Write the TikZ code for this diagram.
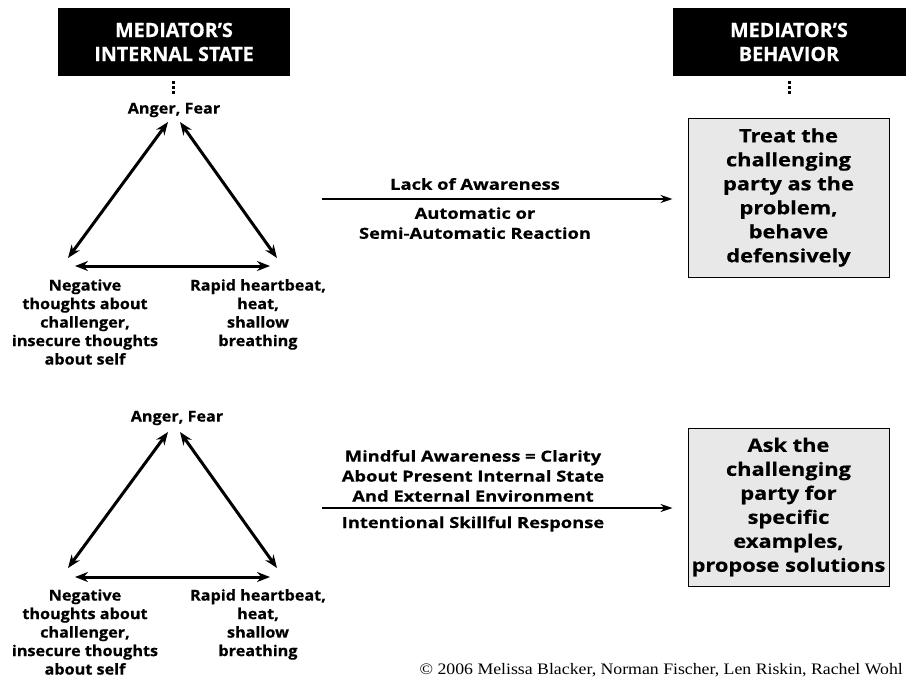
\documentclass[tikz,border=0pt]{standalone}
\usepackage{fontspec}
\setmainfont{Open Sans}
\newfontfamily\hdrf{Open Sans}[FakeBold=0.5]
\newfontfamily\lblf{Open Sans}[FakeStretch=1.08,FakeBold=0.5]
\newfontfamily\midf{Open Sans}[FakeStretch=1.2,FakeBold=0.5]
\newfontfamily\boxf{Open Sans}[FakeStretch=1.18,FakeBold=0.5]
\newfontfamily\crfont{Liberation Serif}[FakeStretch=1.11]
\usetikzlibrary{arrows.meta}
\begin{document}
\begin{tikzpicture}[x=1pt,y=-1pt,
  hdr/.style={fill=black,text=white,font=\hdrf\bfseries\fontsize{19.7}{24}\selectfont,align=center,minimum width=232pt,minimum height=68pt,inner sep=0pt},
  lbl/.style={font=\lblf\bfseries\fontsize{15}{18.5}\selectfont,align=center,inner sep=0pt},
  mid/.style={font=\midf\bfseries\fontsize{15.3}{20}\selectfont,align=center,inner sep=0pt},
  res/.style={draw=black,line width=1pt,fill=black!9,font=\boxf\bfseries\fontsize{18.5}{24}\selectfont,align=center,minimum width=201pt,inner sep=0pt},
  tri/.style={line width=3pt,{Stealth[length=13pt,width=10pt]}-{Stealth[length=13pt,width=10pt]}},
  flow/.style={line width=2pt,-{Stealth[length=12pt,width=8pt]}},
  dots/.style={line width=3pt,dash pattern=on 2.5pt off 2.5pt}]
\useasboundingbox (0,0) rectangle (909,677);
% headers
\node[hdr] (h1) at (174,42) {MEDIATOR’S\\INTERNAL STATE};
\node[hdr,minimum width=233pt] (h2) at (789,42) {MEDIATOR’S\\BEHAVIOR};
\coordinate (d1) at (173,95);
\coordinate (d2) at (789,96);
\draw[dots] ([xshift=-1pt]h1.south) ++(0,5) -- (d1);
\draw[dots] (h2.south) ++(0,5) -- (d2);
% top triangle
\node[lbl] (af1) at (174,110) {Anger, Fear};
\node[lbl,anchor=north] (neg1) at (85,279) {Negative\\thoughts about\\challenger,\\insecure thoughts\\about self};
\node[lbl,anchor=north] (rap1) at (258,279) {Rapid heartbeat,\\heat,\\shallow\\breathing};
\coordinate (t1a) at (168,122); \coordinate (t1b) at (68,258);
\coordinate (t1c) at (180,122); \coordinate (t1d) at (277,258);
\coordinate (t1e) at (75,266); \coordinate (t1f) at (270,266);
\draw[tri] (t1a) -- (t1b);
\draw[tri] (t1c) -- (t1d);
\draw[tri] (t1e) -- (t1f);
% top flow
\node[res,minimum height=159pt] (b1) at (788.5,197.5) {Treat the\\challenging\\party as the\\problem,\\behave\\defensively};
\coordinate (f1) at (322,199);
\draw[flow] (f1) -- ([xshift=-15pt]b1.west |- f1);
\node[mid] (l1) at (475,184) {Lack of Awareness};
\node[mid,anchor=north] (l2) at (475,207) {Automatic or\\Semi-Automatic Reaction};
% bottom triangle
\node[lbl] (af2) at (177,418) {Anger, Fear};
\node[lbl,anchor=north] (neg2) at (85,589) {Negative\\thoughts about\\challenger,\\insecure thoughts\\about self};
\node[lbl,anchor=north] (rap2) at (258,589) {Rapid heartbeat,\\heat,\\shallow\\breathing};
\coordinate (t2a) at (168,432); \coordinate (t2b) at (68,568);
\coordinate (t2c) at (180,432); \coordinate (t2d) at (277,568);
\coordinate (t2e) at (75,577); \coordinate (t2f) at (270,577);
\draw[tri] (t2a) -- (t2b);
\draw[tri] (t2c) -- (t2d);
\draw[tri] (t2e) -- (t2f);
% bottom flow
\node[res,minimum height=158pt] (b2) at (788.5,507) {Ask the\\challenging\\party for\\specific\\examples,\\propose solutions};
\coordinate (f2) at (322,508);
\draw[flow] (f2) -- ([xshift=-15pt]b2.west |- f2);
\node[mid,anchor=south] (m1) at (473,502) {Mindful Awareness = Clarity\\About Present Internal State\\And External Environment};
\node[mid] (m2) at (473,524) {Intentional Skillful Response};
% copyright
\node[anchor=base east,inner sep=0pt,font=\crfont\fontsize{16}{18}\selectfont] (cr) at (903,674) {© 2006 Melissa Blacker, Norman Fischer, Len Riskin, Rachel Wohl};
\end{tikzpicture}
\end{document}
